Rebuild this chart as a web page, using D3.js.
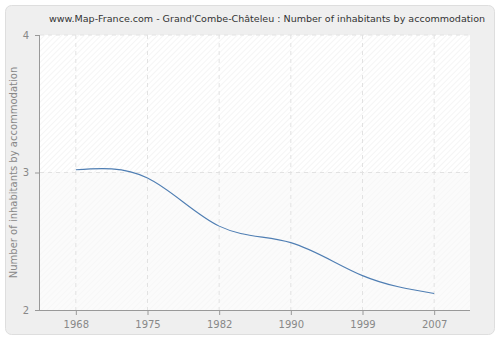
<!DOCTYPE html>
<meta charset="utf-8">
<head>
<script src="https://d3js.org/d3.v7.min.js"></script>
<style>
  body { margin: 0; background: #fff; }
  text { font-family: "DejaVu Sans", Verdana, sans-serif; }
</style>
</head>
<body>
<svg id="chart"></svg>
<script>
// data
var years = ["1968", "1975", "1982", "1990", "1999", "2007"];
var inhabitants = [3.02, 2.96, 2.61, 2.49, 2.25, 2.12];
var yTicks = [2, 3, 4];

var W = 500, H = 340;
var svg = d3.select("#chart").attr("width", W).attr("height", H);

var plot = {left: 40, right: 470, top: 35, bottom: 310};

// outer frame
svg.append("rect")
  .attr("x", 5.5).attr("y", 5.5)
  .attr("width", 489).attr("height", 329)
  .attr("rx", 6)
  .attr("fill", "#efefef")
  .attr("stroke", "#dedede");

// hatch patterns
var defs = svg.append("defs");
function hatch(id, bg, line) {
  var p = defs.append("pattern").attr("id", id)
    .attr("patternUnits", "userSpaceOnUse")
    .attr("width", 4).attr("height", 4)
    .attr("patternTransform", "rotate(45)");
  p.append("rect").attr("width", 4).attr("height", 4).attr("fill", bg);
  p.append("line").attr("x1", 0).attr("y1", 0).attr("x2", 0).attr("y2", 4)
    .attr("stroke", line).attr("stroke-width", 1);
}
hatch("hatchA", "#ffffff", "#ebebeb");
hatch("hatchB", "#fbfbfb", "#f3f3f3");

var x = d3.scalePoint().domain(years).range([plot.left, plot.right]).padding(0.5);
var y = d3.scaleLinear().domain([2, 4]).range([plot.bottom, plot.top]);

svg.append("rect")
  .attr("x", plot.left).attr("y", y(4))
  .attr("width", plot.right - plot.left).attr("height", y(3) - y(4))
  .attr("fill", "url(#hatchA)");
svg.append("rect")
  .attr("x", plot.left).attr("y", y(3))
  .attr("width", plot.right - plot.left).attr("height", y(2) - y(3))
  .attr("fill", "url(#hatchB)");

// grid
svg.append("g").selectAll("line").data(years).join("line")
  .attr("x1", d => x(d)).attr("x2", d => x(d))
  .attr("y1", plot.top).attr("y2", plot.bottom)
  .attr("stroke", "#e2e2e2").attr("stroke-dasharray", "4,4");
svg.append("g").selectAll("line").data(yTicks.slice(1)).join("line")
  .attr("x1", plot.left).attr("x2", plot.right)
  .attr("y1", d => y(d)).attr("y2", d => y(d))
  .attr("stroke", "#e2e2e2").attr("stroke-dasharray", "4,4");

// axes
var xAxis = svg.append("g")
  .attr("transform", "translate(0," + plot.bottom + ")")
  .call(d3.axisBottom(x).tickSize(5).tickPadding(6));
xAxis.select(".domain").attr("d", "M" + (plot.left - 5) + ",0.5H" + plot.right);

var yAxis = svg.append("g")
  .attr("transform", "translate(" + plot.left + ",0)")
  .call(d3.axisLeft(y).tickValues(yTicks).tickFormat(d3.format("d")).tickSize(5).tickPadding(6));
yAxis.select(".domain").attr("d", "M-0.5," + plot.top + "V" + plot.bottom);

svg.selectAll(".domain").attr("stroke", "#999");
svg.selectAll(".tick line").attr("stroke", "#999");
svg.selectAll(".tick text").attr("fill", "#888").attr("font-size", 10)
  .attr("font-family", "DejaVu Sans, Verdana, sans-serif");

// line
var line = d3.line()
  .x((d, i) => x(years[i]))
  .y(d => y(d))
  .curve(d3.curveNatural);
svg.append("path")
  .datum(inhabitants)
  .attr("d", line)
  .attr("fill", "none")
  .attr("stroke", "#4f7eb3")
  .attr("stroke-width", 1.1);

// title
svg.append("text")
  .attr("x", 267).attr("y", 22)
  .attr("text-anchor", "middle")
  .attr("font-size", 9.5)
  .attr("textLength", 436)
  .attr("lengthAdjust", "spacingAndGlyphs")
  .attr("fill", "#333")
  .text("www.Map-France.com - Grand'Combe-Châteleu : Number of inhabitants by accommodation");

// y label
svg.append("text")
  .attr("transform", "translate(17," + ((plot.top + plot.bottom) / 2) + ") rotate(-90)")
  .attr("text-anchor", "middle")
  .attr("font-size", 10)
  .attr("fill", "#888")
  .text("Number of inhabitants by accommodation");
</script>
</body>
</html>
